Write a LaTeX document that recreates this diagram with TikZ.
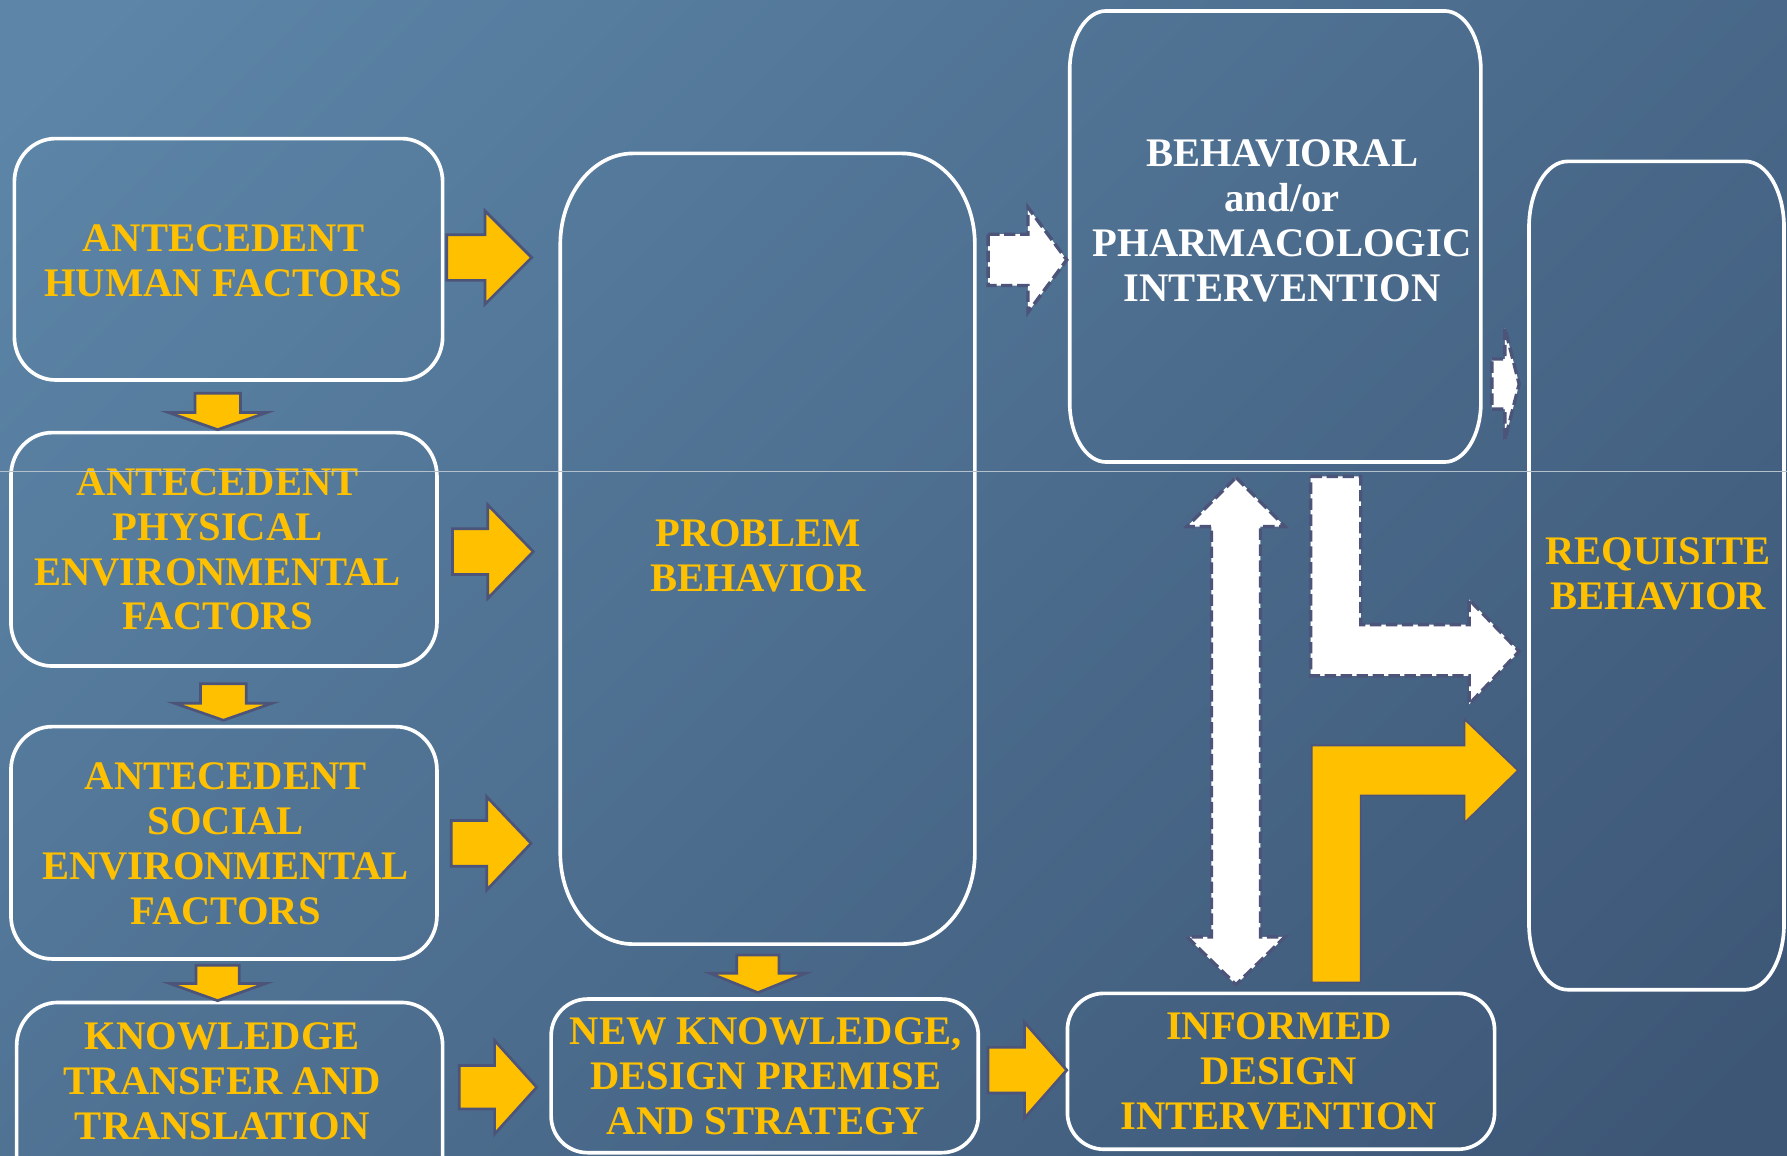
\documentclass[tikz,border=0pt]{standalone}
\usepackage{fontspec}
\setmainfont{Liberation Serif}
\usetikzlibrary{calc}
\definecolor{bgA}{HTML}{5C85A7}
\definecolor{bgB}{HTML}{3D5676}
\definecolor{gold}{HTML}{FFC000}
\definecolor{edge}{HTML}{4D5479}
\definecolor{hair}{HTML}{B4C0CC}

\tikzset{
  boxline/.style={draw=white, line width=1.6pt},
  bx/.style={draw=none, inner sep=0pt},
  lab/.style={align=center, font=\fontsize{17.8pt}{19.7pt}\selectfont\bfseries, text=gold, inner sep=0pt},
  wlab/.style={lab, text=white},
  yarr/.style={fill=gold, draw=edge, line width=1.2pt, line join=miter},
  warr/.style={fill=white, draw=edge, line width=1.5pt, dash pattern=on 5pt off 2pt, line join=miter},
}

% box outline with elliptical corners: node name, x radius, y radius
\newcommand\eboxpath[3]{%
  \draw[boxline] let \p1=(#1.north west), \p2=(#1.south east) in
    (\x1+#2,\y1) -- (\x2-#2,\y1) arc[start angle=90,end angle=0,x radius=#2,y radius=#3]
    -- (\x2,\y2+#3) arc[start angle=0,end angle=-90,x radius=#2,y radius=#3]
    -- (\x1+#2,\y2) arc[start angle=-90,end angle=-180,x radius=#2,y radius=#3]
    -- (\x1,\y1-#3) arc[start angle=180,end angle=90,x radius=#2,y radius=#3] -- cycle;}

% right block arrow: style, tail x, centre y, length, shaft half, head half, head length
\newcommand\RArrow[7]{%
  \draw[#1] (#2,#3-#5) -- (#2+#4-#7,#3-#5) -- (#2+#4-#7,#3-#6) -- (#2+#4,#3)
    -- (#2+#4-#7,#3+#6) -- (#2+#4-#7,#3+#5) -- (#2,#3+#5) -- cycle;}
% down block arrow: style, centre x, top y, length, shaft half, head half, head length
\newcommand\DArrow[7]{%
  \draw[#1] (#2-#5,#3) -- (#2+#5,#3) -- (#2+#5,#3+#4-#7) -- (#2+#6,#3+#4-#7)
    -- (#2,#3+#4) -- (#2-#6,#3+#4-#7) -- (#2-#5,#3+#4-#7) -- cycle;}

\begin{document}
\begin{tikzpicture}[x=0.5pt,y=-0.5pt]
\clip (0,0) rectangle (1568,1014);
\shade[top color=bgA, bottom color=bgB, shading angle=45] (-200,-200) rectangle (1768,1214);

% ---------- boxes ----------
\node[bx, minimum width=187.5pt, minimum height=105.5pt] (b1) at (200.5,227.5) {};
\node[bx, minimum width=186.5pt, minimum height=102pt]   (b2) at (196.5,482) {};
\node[bx, minimum width=186.5pt, minimum height=101.5pt] (b3) at (196.5,739.5) {};
\node[bx, minimum width=186.5pt, minimum height=90pt]    (b4) at (201.5,970) {};
\node[bx, minimum width=181.5pt, minimum height=346.5pt] (pb) at (673.5,481.5) {};
\node[bx, minimum width=187pt,   minimum height=67pt]    (nk) at (671,944) {};
\node[bx, minimum width=187pt,   minimum height=68pt]    (ind) at (1124,940) {};
\node[bx, minimum width=180pt,   minimum height=197.5pt] (bh) at (1119,207.5) {};
\node[bx, minimum width=111.5pt, minimum height=363pt]   (rq) at (1453.5,505) {};

\eboxpath{b1}{18pt}{19pt}
\eboxpath{b2}{18pt}{19pt}
\eboxpath{b3}{18pt}{19pt}
\eboxpath{b4}{18pt}{19pt}
\eboxpath{pb}{32pt}{40pt}
\eboxpath{nk}{16pt}{16pt}
\eboxpath{ind}{16pt}{16pt}
\eboxpath{bh}{16pt}{26pt}
\eboxpath{rq}{17pt}{29pt}

% ---------- texts ----------
\node[lab]  (t1) at (196,228.5) {ANTECEDENT\\HUMAN FACTORS};
\node[lab]  (t2) at (191,482) {ANTECEDENT\\PHYSICAL\\ENVIRONMENTAL\\FACTORS};
\node[lab]  (t3) at (198,740.5) {ANTECEDENT\\SOCIAL\\ENVIRONMENTAL\\FACTORS};
\node[lab]  (t4) at (195,949) {KNOWLEDGE\\TRANSFER AND\\TRANSLATION};
\node[lab]  (tp) at (665,488) {PROBLEM\\BEHAVIOR};
\node[lab]  (tn) at (672,944.5) {NEW KNOWLEDGE,\\DESIGN PREMISE\\AND STRATEGY};
\node[lab]  (ti) at (1122,940) {INFORMED\\DESIGN\\INTERVENTION};
\node[wlab] (tb) at (1125,193.5) {BEHAVIORAL\\and/or\\PHARMACOLOGIC\\INTERVENTION};
\node[lab]  (tr) at (1455,503.5) {REQUISITE\\BEHAVIOR};

% ---------- yellow block arrows ----------
\RArrow{yarr}{392}{226}{74.5}{20}{41}{41}
\RArrow{yarr}{397}{484}{71}{20}{41}{40}
\RArrow{yarr}{396}{740}{70}{20}{41}{39}
\RArrow{yarr}{403}{954}{68}{19}{41}{37}
\RArrow{yarr}{867}{939}{69}{20}{42}{37}

\DArrow{yarr}{191}{345}{32}{20}{43}{15}
\DArrow{yarr}{196}{600}{32}{20}{43}{15}
\DArrow{yarr}{191}{847}{31}{19}{42}{15}
\DArrow{yarr}{665}{838}{33}{18.5}{42}{17}

% ---------- white block arrows ----------
\RArrow{warr}{867}{228}{69}{22.5}{46}{34}
\RArrow{warr}{1309}{337}{24}{22}{49}{12.5}

% double vertical arrow
\draw[warr] (1084.5,419) -- (1127.5,462) -- (1106,462) -- (1106,822) -- (1127.5,822)
  -- (1084.5,864) -- (1041.5,822) -- (1063,822) -- (1063,462) -- (1041.5,462) -- cycle;

% white L arrow
\draw[warr] (1150,418) -- (1194,418) -- (1194,548) -- (1289,548) -- (1289,526)
  -- (1333,571.5) -- (1289,618) -- (1289,593) -- (1150,593) -- cycle;

% yellow L arrow
\draw[yarr, line width=0.8pt] (1151,862) -- (1151,654) -- (1285,654) -- (1285,631) -- (1332,676)
  -- (1285,722) -- (1285,698) -- (1194,698) -- (1194,862) -- cycle;

% thin hairline across the slide
\draw[hair, line width=0.5pt] (0,414) -- (1568,414);
\end{tikzpicture}
\end{document}
